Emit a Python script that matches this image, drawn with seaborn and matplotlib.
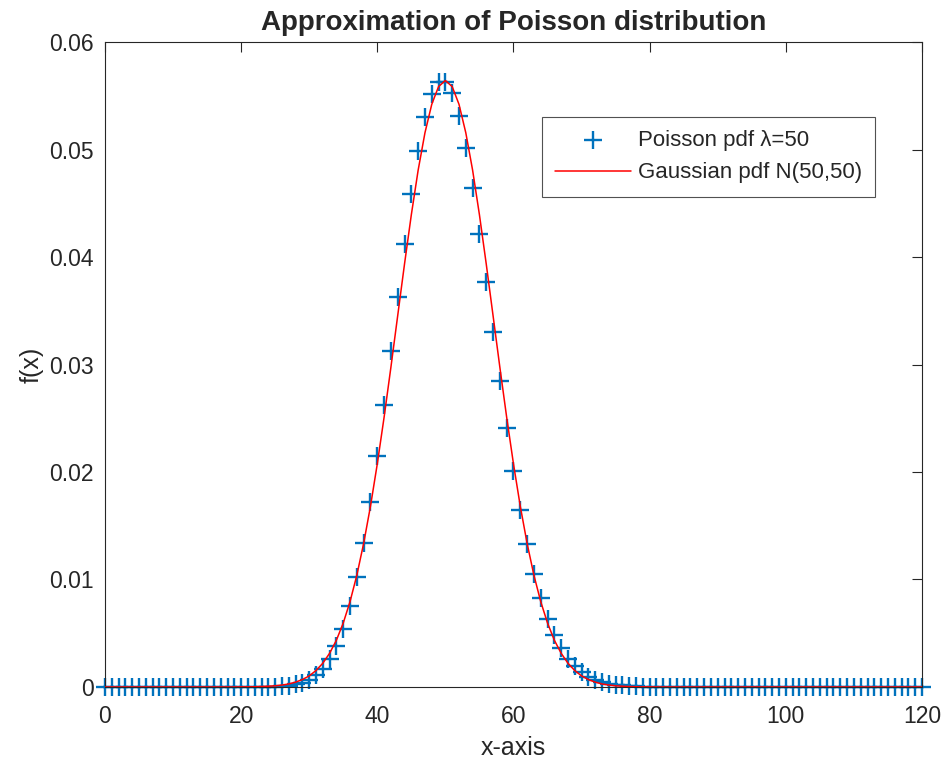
import numpy as np
import matplotlib
matplotlib.use("Agg")
import matplotlib.pyplot as plt
import seaborn as sns

sns.set_theme(style="white")
plt.rcParams["font.family"] = ["Liberation Sans", "DejaVu Sans"]

# x positions (0..120)
x_vals = list(range(0, 121))

# Poisson pdf lambda=50 (k = 0..120)
poisson_vals = (
    [0.0] * 23
    + [0.00001, 0.00002, 0.00004, 0.00007, 0.00013, 0.00024, 0.00041,   # 23-29
       0.00068, 0.00109, 0.00171, 0.00259, 0.00380, 0.00543, 0.00755,   # 30-36
       0.01020, 0.01342, 0.01720, 0.02150, 0.02622, 0.03122, 0.03630,   # 37-43
       0.04125, 0.04583, 0.04982, 0.05300, 0.05520, 0.05633, 0.05633,   # 44-50
       0.05523, 0.05310, 0.05010, 0.04639, 0.04217, 0.03765, 0.03303,   # 51-57
       0.02847, 0.02413, 0.02011, 0.01648, 0.01329, 0.01055, 0.00824,   # 58-64
       0.00634, 0.00480, 0.00358, 0.00263, 0.00191, 0.00136, 0.00096,   # 65-71
       0.00067, 0.00046, 0.00031, 0.00021, 0.00014, 0.00009, 0.00006,   # 72-78
       0.00004, 0.00002, 0.00001]                                        # 79-81
    + [0.0] * 39
)

# Gaussian pdf N(50,50) (x = 0..120)
gauss_vals = (
    [0.0] * 20
    + [0.00001, 0.00001, 0.00002, 0.00004, 0.00007, 0.00011, 0.00018,   # 20-26
       0.00028, 0.00045, 0.00069, 0.00103, 0.00153, 0.00221, 0.00314,   # 27-33
       0.00436, 0.00595, 0.00795, 0.01041, 0.01337, 0.01682, 0.02076,   # 34-40
       0.02510, 0.02975, 0.03456, 0.03936, 0.04394, 0.04808, 0.05156,   # 41-47
       0.05421, 0.05586, 0.05642, 0.05586, 0.05421, 0.05156, 0.04808,   # 48-54
       0.04394, 0.03936, 0.03456, 0.02975, 0.02510, 0.02076, 0.01682,   # 55-61
       0.01337, 0.01041, 0.00795, 0.00595, 0.00436, 0.00314, 0.00221,   # 62-68
       0.00153, 0.00103, 0.00069, 0.00045, 0.00028, 0.00018, 0.00011,   # 69-75
       0.00007, 0.00004, 0.00002, 0.00001, 0.00001]                      # 76-80
    + [0.0] * 40
)

x_ticks = [0, 20, 40, 60, 80, 100, 120]
y_ticks = [0, 0.01, 0.02, 0.03, 0.04, 0.05, 0.06]
y_tick_labels = ["0", "0.01", "0.02", "0.03", "0.04", "0.05", "0.06"]

fig = plt.figure(figsize=(9.43, 7.65), dpi=100)
ax = fig.add_axes([0.1113, 0.102, 0.8664, 0.843])

sns.scatterplot(x=x_vals, y=poisson_vals, ax=ax, color="#0072BD",
                marker="+", s=175, linewidth=1.7,
                label="Poisson pdf λ=50", zorder=2, clip_on=False)
sns.lineplot(x=x_vals, y=gauss_vals, ax=ax, color="#FF0000", linewidth=1.1,
             label="Gaussian pdf N(50,50)", zorder=3)

ax.set_xlim(0, 120)
ax.set_ylim(0, 0.06)
ax.set_xticks(x_ticks)
ax.set_yticks(y_ticks)
ax.set_yticklabels(y_tick_labels)
ax.tick_params(direction="in", length=7, width=0.8, colors="#262626",
               labelsize=16.5, top=True, right=True)
ax.tick_params(axis="x", pad=13)
ax.tick_params(axis="y", pad=8)
for s in ax.spines.values():
    s.set_color("#262626")
    s.set_linewidth(0.8)

ax.set_title("Approximation of Poisson distribution", fontsize=20,
             fontweight="bold", pad=9)
ax.set_xlabel("x-axis", fontsize=18, color="#262626", labelpad=6)
ax.set_ylabel("f(x)", fontsize=18, color="#262626", labelpad=4)

leg = ax.legend(loc="upper right", bbox_to_anchor=(0.9425, 0.884), fontsize=16,
                frameon=True, fancybox=False, edgecolor="#262626",
                borderaxespad=0, handlelength=3.4, borderpad=0.6,
                labelspacing=0.5, handletextpad=0.3)
leg.get_frame().set_linewidth(0.8)

fig.savefig("out.png", dpi=100)
